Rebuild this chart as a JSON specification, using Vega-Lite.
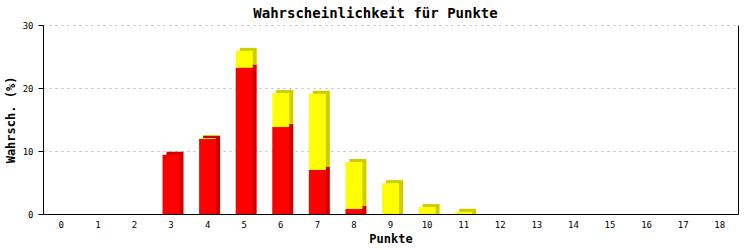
{
  "$schema": "https://vega.github.io/schema/vega-lite/v6.json",
  "autosize": {"type": "none"},
  "width": 695,
  "height": 189,
  "padding": {"left": 43, "top": 25, "right": 15, "bottom": 36},
  "background": "white",
  "title": {
    "text": "Wahrscheinlichkeit für Punkte",
    "font": "DejaVu Sans Mono",
    "fontSize": 14,
    "fontWeight": "bold",
    "color": "black",
    "anchor": "middle",
    "dx": -15,
    "offset": 0
  },
  "data": {
    "values": [
      {"Punkte": 0, "Serie": "A", "Wert": 0},
      {"Punkte": 1, "Serie": "A", "Wert": 0},
      {"Punkte": 2, "Serie": "A", "Wert": 0},
      {"Punkte": 3, "Serie": "A", "Wert": 9.4},
      {"Punkte": 4, "Serie": "A", "Wert": 11.9},
      {"Punkte": 5, "Serie": "A", "Wert": 23.2},
      {"Punkte": 6, "Serie": "A", "Wert": 13.8},
      {"Punkte": 7, "Serie": "A", "Wert": 7.0},
      {"Punkte": 8, "Serie": "A", "Wert": 0.8},
      {"Punkte": 9, "Serie": "A", "Wert": 0},
      {"Punkte": 10, "Serie": "A", "Wert": 0},
      {"Punkte": 11, "Serie": "A", "Wert": 0},
      {"Punkte": 12, "Serie": "A", "Wert": 0},
      {"Punkte": 13, "Serie": "A", "Wert": 0},
      {"Punkte": 14, "Serie": "A", "Wert": 0},
      {"Punkte": 15, "Serie": "A", "Wert": 0},
      {"Punkte": 16, "Serie": "A", "Wert": 0},
      {"Punkte": 17, "Serie": "A", "Wert": 0},
      {"Punkte": 18, "Serie": "A", "Wert": 0},
      {"Punkte": 4, "Serie": "B", "Wert": 0.15},
      {"Punkte": 5, "Serie": "B", "Wert": 2.7},
      {"Punkte": 6, "Serie": "B", "Wert": 5.4},
      {"Punkte": 7, "Serie": "B", "Wert": 12.1},
      {"Punkte": 8, "Serie": "B", "Wert": 7.45},
      {"Punkte": 9, "Serie": "B", "Wert": 4.9},
      {"Punkte": 10, "Serie": "B", "Wert": 1.1},
      {"Punkte": 11, "Serie": "B", "Wert": 0.35}
    ]
  },
  "transform": [
    {"stack": "Wert", "groupby": ["Punkte"], "sort": [{"field": "Serie"}], "as": ["lo", "hi"]}
  ],
  "encoding": {
    "x": {
      "field": "Punkte",
      "type": "ordinal",
      "scale": {"paddingInner": 0, "paddingOuter": 0},
      "axis": {
        "title": "Punkte",
        "labelAngle": 0,
        "labelFont": "DejaVu Sans Mono",
        "labelFontSize": 9,
        "labelColor": "black",
        "ticks": false,
        "labelPadding": 6,
        "domainColor": "black",
        "domainWidth": 1,
        "titleFont": "DejaVu Sans Mono",
        "titleFontSize": 12,
        "titleFontWeight": "bold",
        "titleColor": "black",
        "titlePadding": 4
      }
    },
    "y2": {"field": "lo"}
  },
  "layer": [
    {
      "transform": [{"filter": "datum.Serie == 'B' && datum.Wert > 0 && datum.lo > 0"}],
      "mark": {"type": "bar", "size": 17, "color": "#cccc00", "xOffset": 4, "yOffset": -3, "y2Offset": -3},
      "encoding": {
        "y": {
          "field": "hi",
          "type": "quantitative",
          "scale": {"domain": [0, 30], "nice": false},
          "axis": {
            "title": "Wahrsch. (%)",
            "values": [0, 10, 20, 30],
            "grid": true,
            "gridColor": "#bbbbbb",
            "gridDash": [2, 4],
            "gridWidth": 1,
            "labelFont": "DejaVu Sans Mono",
            "labelFontSize": 9,
            "labelColor": "black",
            "tickColor": "black",
            "tickSize": 5,
            "labelPadding": 5,
            "domainColor": "black",
            "domainWidth": 1,
            "titleFont": "DejaVu Sans Mono",
            "titleFontSize": 12,
            "titleFontWeight": "bold",
            "titleColor": "black",
            "titlePadding": 5
          }
        }
      }
    },
    {
      "transform": [{"filter": "datum.Serie == 'B' && datum.Wert > 0 && datum.lo == 0"}],
      "mark": {"type": "bar", "size": 17, "color": "#cccc00", "xOffset": 4, "yOffset": -3, "y2Offset": 0},
      "encoding": {
        "y": {
          "field": "hi",
          "type": "quantitative",
          "scale": {"domain": [0, 30], "nice": false},
          "axis": null
        }
      }
    },
    {
      "transform": [{"filter": "datum.Serie == 'A' && datum.Wert > 0"}],
      "mark": {"type": "bar", "size": 17, "color": "#cc0000", "xOffset": 4, "yOffset": -3, "y2Offset": 0},
      "encoding": {
        "y": {
          "field": "hi",
          "type": "quantitative",
          "scale": {"domain": [0, 30], "nice": false},
          "axis": null
        }
      }
    },
    {
      "mark": {"type": "bar", "size": 17},
      "encoding": {
        "color": {
          "field": "Serie",
          "scale": {"domain": ["A", "B"], "range": ["#ff0000", "#ffff00"]},
          "legend": null
        },
        "y": {
          "field": "hi",
          "type": "quantitative",
          "scale": {"domain": [0, 30], "nice": false},
          "axis": {
            "title": null,
            "labels": false,
            "ticks": false,
            "grid": false,
            "domainColor": "black",
            "domainWidth": 1
          }
        }
      }
    }
  ],
  "resolve": {"axis": {"y": "independent"}},
  "config": {"view": {"stroke": null}}
}
